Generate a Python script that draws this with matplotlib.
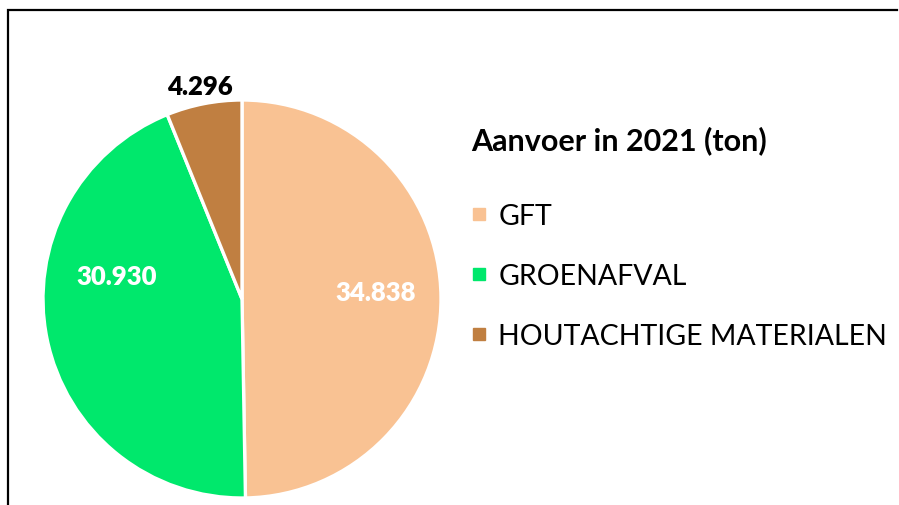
import matplotlib.pyplot as plt
from matplotlib.lines import Line2D

plt.rcParams['font.family'] = ['Lato', 'DejaVu Sans']

categories = ['GFT', 'GROENAFVAL', 'HOUTACHTIGE MATERIALEN']
values = [34838, 30930, 4296]
value_labels = ['34.838', '30.930', '4.296']
colors = ['#F9C293', '#00E86C', '#C07F41']
label_colors = ['white', 'white', 'black']
# label spots in pie units (Excel "best fit" placement)
label_pos = [(0.672, 0.035), (-0.631, 0.116), (-0.212, 1.07)]
legend_title = 'Aanvoer in 2021 (ton)'

W, H = 899, 506
fig = plt.figure(figsize=(W / 100, H / 100), dpi=100)

# pie centre (242, 300) px, radius 199 px
cx, cy, r = 242, 300, 199
ax = fig.add_axes([(cx - r) / W, (H - cy - r) / H, 2 * r / W, 2 * r / H])
wedges, _ = ax.pie(values, colors=colors, startangle=90, counterclock=False,
                   wedgeprops=dict(edgecolor='white', linewidth=2.4))
ax.set_xlim(-1, 1)
ax.set_ylim(-1, 1)
ax.set_aspect('equal')

for (x, y), txt, c in zip(label_pos, value_labels, label_colors):
    ax.text(x, y, txt, ha='center', va='center', color=c,
            fontsize=18.5, fontweight='heavy', clip_on=False)

fig.text(471 / W, 1 - 141 / H, legend_title, ha='left', va='center',
         fontsize=22, fontweight='bold')

handles = [Line2D([], [], marker='s', linestyle='none', markersize=8.5,
                  markerfacecolor=c, markeredgecolor=c) for c in colors]
leg = fig.legend(handles, categories, loc='upper left',
                 bbox_to_anchor=(470 / W, 1 - 204 / H), frameon=False,
                 fontsize=20.5, borderpad=0, borderaxespad=0,
                 handlelength=0.6, handletextpad=0.4, labelspacing=1.2)

# outer frame: only the left and top edges fall inside the crop
fig.add_artist(Line2D([8 / W, 8 / W, 897 / W], [0, 1 - 11 / H, 1 - 11 / H],
                      transform=fig.transFigure, color='black',
                      linewidth=1.6, solid_joinstyle='miter'))

fig.savefig('out.png', dpi=100)
